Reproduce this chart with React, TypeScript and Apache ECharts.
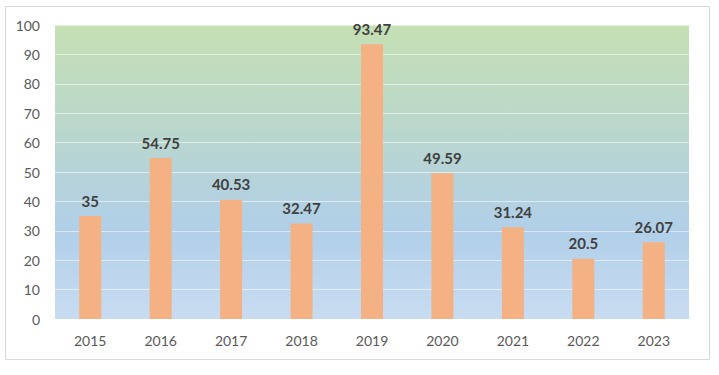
import React, { useEffect, useRef } from "react";
import * as echarts from "echarts";

const categories = ["2015", "2016", "2017", "2018", "2019", "2020", "2021", "2022", "2023"];
const values = [35, 54.75, 40.53, 32.47, 93.47, 49.59, 31.24, 20.5, 26.07];
const yTicks = { min: 0, max: 100, interval: 10 };

export default function App() {
  const ref = useRef<HTMLDivElement>(null);
  useEffect(() => {
    document.body.style.margin = "0";
    const chart = echarts.init(ref.current!, null, { renderer: "svg" });
    chart.setOption({
      animation: false,
      backgroundColor: "#ffffff",
      textStyle: { fontFamily: "Lato, 'Open Sans', sans-serif" },
      graphic: [
        {
          type: "rect",
          shape: { x: 5.5, y: 6.5, width: 704, height: 353 },
          style: { fill: "none", stroke: "#D9D9D9", lineWidth: 1 },
          silent: true,
        },
      ],
      grid: {
        left: 55,
        top: 25,
        width: 634,
        height: 294,
        show: true,
        borderWidth: 0,
        backgroundColor: new echarts.graphic.LinearGradient(0, 0, 0, 1, [
          { offset: 0, color: "#C5E0B4" },
          { offset: 0.35, color: "#BAD7CC" },
          { offset: 0.7, color: "#B1CFE9" },
          { offset: 1, color: "#C8DCF1" },
        ]),
      },
      xAxis: {
        type: "category",
        data: categories,
        axisLine: { show: false },
        axisTick: { show: false },
        axisLabel: { color: "#595959", fontSize: 14, margin: 14 },
      },
      yAxis: {
        type: "value",
        min: yTicks.min,
        max: yTicks.max,
        interval: yTicks.interval,
        axisLine: { show: false },
        axisTick: { show: false },
        axisLabel: { color: "#595959", fontSize: 14, margin: 15 },
        splitLine: { lineStyle: { color: "rgba(255,255,255,0.55)", width: 1 } },
      },
      series: [
        {
          type: "bar",
          data: values,
          barWidth: 22,
          itemStyle: { color: "#F4B183" },
          label: {
            show: true,
            position: "top",
            distance: 8,
            color: "#404040",
            fontSize: 15,
            fontWeight: "bold",
          },
        },
      ],
    });
    return () => chart.dispose();
  }, []);
  return <div ref={ref} style={{ width: 719, height: 375 }} />;
}
